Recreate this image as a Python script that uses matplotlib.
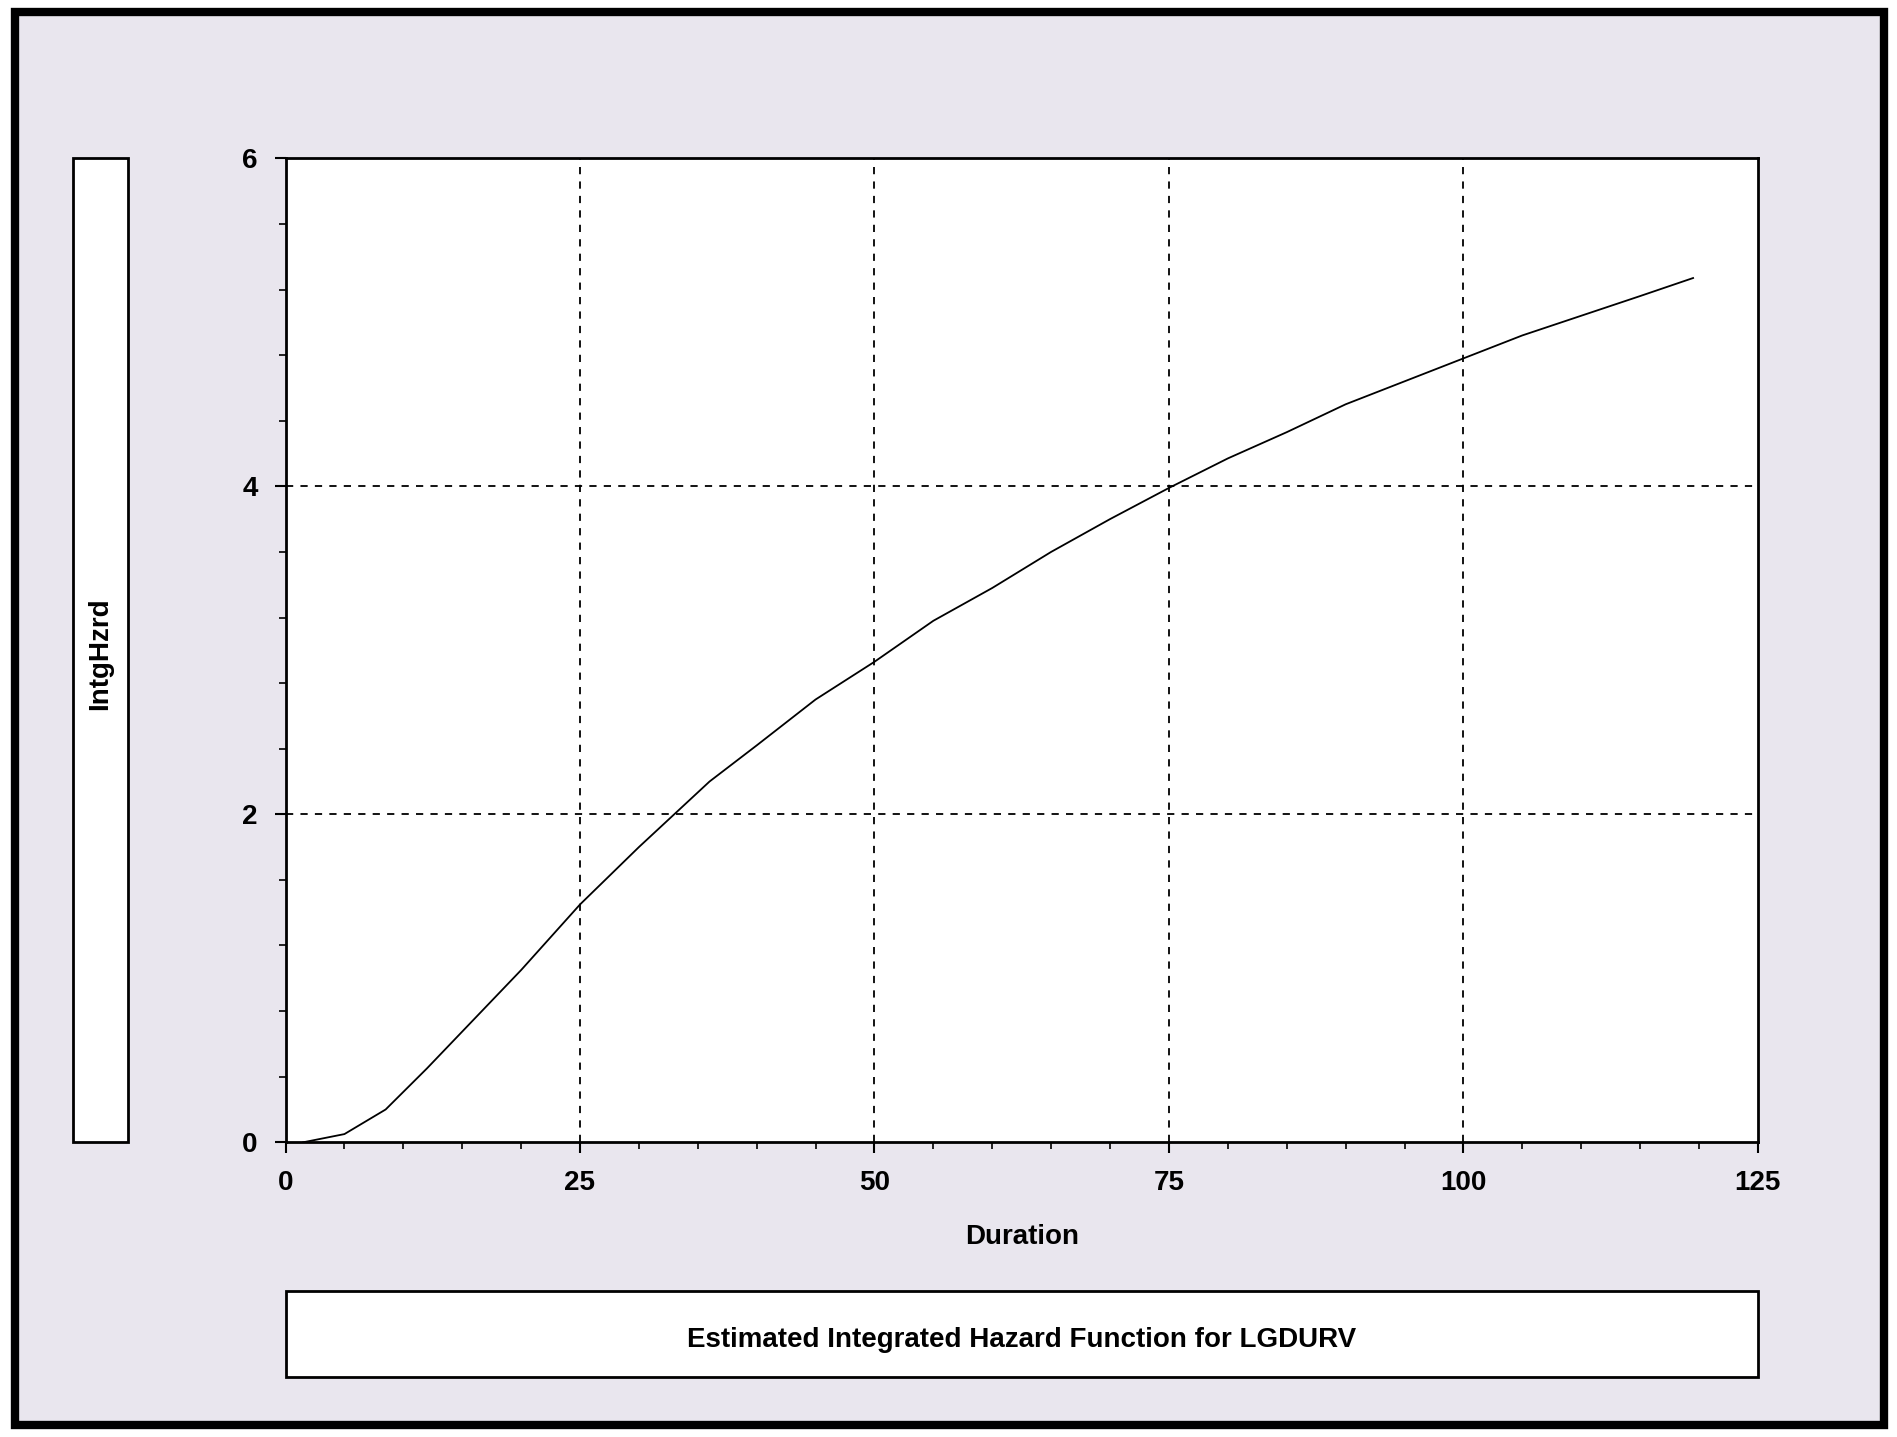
import matplotlib.pyplot as plt
from matplotlib.patches import Rectangle
from matplotlib.ticker import MultipleLocator

duration = [1.5, 5, 8.5, 12, 16, 20, 25, 30, 33, 36, 40, 45, 50, 55, 60, 65, 70, 75,
            80, 85, 90, 95, 100, 105, 110, 115, 119.5]
intg_hzrd = [0.0, 0.05, 0.2, 0.45, 0.75, 1.05, 1.45, 1.8, 2.0, 2.2, 2.42, 2.7, 2.93, 3.18,
             3.38, 3.6, 3.8, 3.99, 4.17, 4.33, 4.5, 4.64, 4.78, 4.92, 5.04, 5.16, 5.27]

plt.rcParams['font.family'] = ['Liberation Sans', 'DejaVu Sans']
W, H = 1568, 1180
fig = plt.figure(figsize=(18.97, 14.37), dpi=100)
fig.patch.set_facecolor('white')

def fx(px): return px / W
def fy(py): return 1 - py / H

# outer panel with frame
fig.add_artist(Rectangle((fx(12), fy(1170)), fx(1557) - fx(12), fy(10) - fy(1170),
                         transform=fig.transFigure, facecolor='#e9e6ee', edgecolor='black',
                         lw=6, zorder=-2))
# y label box
fig.add_artist(Rectangle((fx(60), fy(938)), fx(106) - fx(60), fy(130) - fy(938),
                         transform=fig.transFigure, facecolor='white', edgecolor='black',
                         lw=2, zorder=-1))
fig.text(fx(83), fy(537), 'IntgHzrd', rotation=90, ha='center', va='center',
         fontsize=20, fontweight='bold')
# title box
fig.add_artist(Rectangle((fx(236), fy(1131)), fx(1453) - fx(236), fy(1060) - fy(1131),
                         transform=fig.transFigure, facecolor='white', edgecolor='black',
                         lw=2, zorder=-1))
fig.text(fx(844), fy(1100), 'Estimated Integrated Hazard Function for LGDURV',
         ha='center', va='center', fontsize=20, fontweight='bold')

ax = fig.add_axes([fx(236), fy(938), fx(1453) - fx(236), fy(130) - fy(938)])
ax.set_zorder(5)
ax.plot(duration, intg_hzrd, color='black', lw=1.3)
ax.set_xlim(0, 125)
ax.set_ylim(0, 6)
ax.xaxis.set_major_locator(MultipleLocator(25))
ax.xaxis.set_minor_locator(MultipleLocator(5))
ax.yaxis.set_major_locator(MultipleLocator(2))
ax.yaxis.set_minor_locator(MultipleLocator(0.4))
for v in [25, 50, 75, 100]:
    ax.axvline(v, color='black', ls=(0, (4, 4)), lw=1.3)
for v in [2, 4]:
    ax.axhline(v, color='black', ls=(0, (4, 4)), lw=1.3)
ax.tick_params(which='major', length=8, width=1.5, labelsize=20, pad=12)
ax.tick_params(which='minor', length=5, width=1.2)
for lab in ax.get_xticklabels() + ax.get_yticklabels():
    lab.set_fontweight('bold')
for s in ax.spines.values():
    s.set_linewidth(2)
ax.set_xlabel('Duration', fontsize=20, fontweight='bold', labelpad=20)

fig.savefig('out.png', dpi=100)
